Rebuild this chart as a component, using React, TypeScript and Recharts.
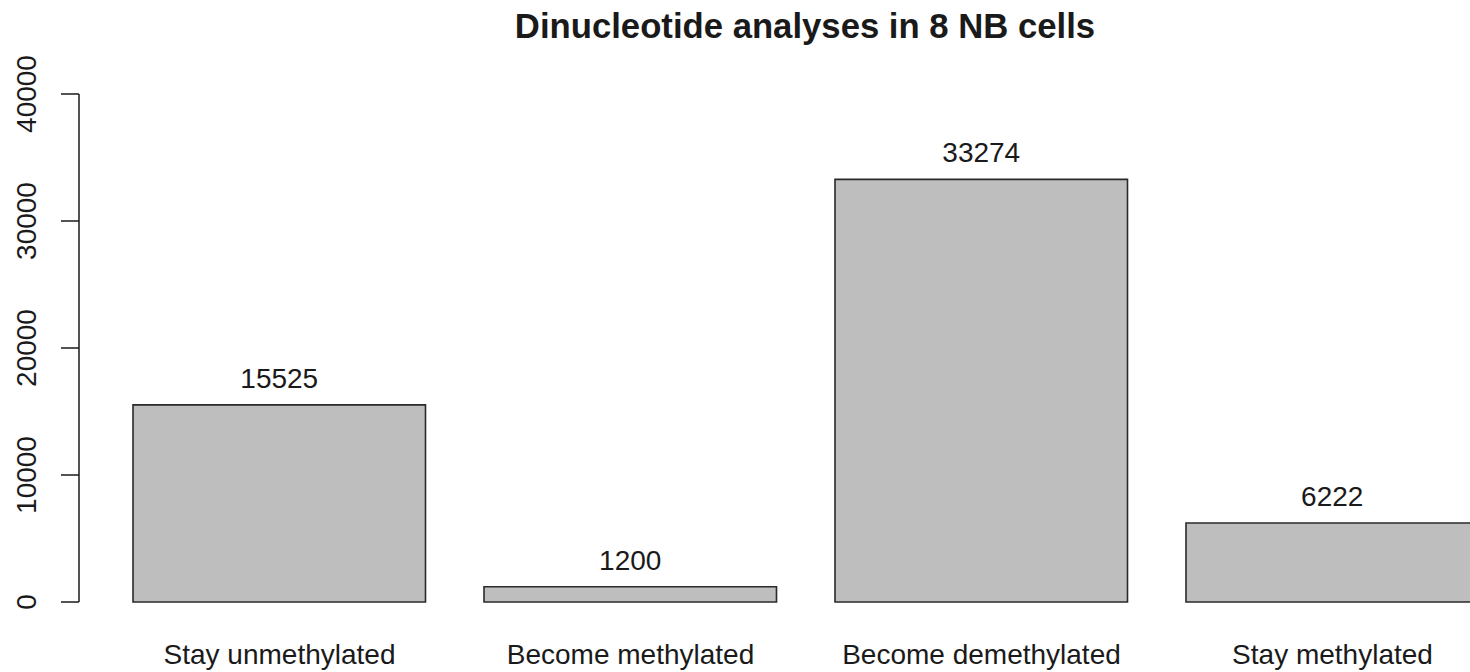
import React from "react";
import { BarChart, Bar, XAxis, YAxis, LabelList } from "recharts";

const categories = [
  "Stay unmethylated",
  "Become methylated",
  "Become demethylated",
  "Stay methylated",
];
const counts = [15525, 1200, 33274, 6222];
const yTicks = [0, 10000, 20000, 30000, 40000];

const data = categories.map((name, i) => ({ name, count: counts[i] }));

const FONT = "'Liberation Sans', Arial, Helvetica, sans-serif";
const INK = "#1a1a1a";

function YTick(props: any) {
  const { y, payload } = props;
  return (
    <text
      x={36}
      y={y}
      transform={`rotate(-90, 36, ${y})`}
      textAnchor="middle"
      fontSize={28}
      fontFamily={FONT}
      fill={INK}
    >
      {payload.value}
    </text>
  );
}

function XTick(props: any) {
  const { x, payload } = props;
  return (
    <text
      x={x}
      y={664}
      textAnchor="middle"
      fontSize={28}
      fontFamily={FONT}
      fill={INK}
    >
      {payload.value}
    </text>
  );
}

export default function App() {
  return (
    <div
      style={{
        position: "absolute",
        left: 0,
        top: 0,
        width: 1470,
        height: 672,
        overflow: "hidden",
        background: "#fff",
      }}
    >
      <div
        style={{
          position: "absolute",
          left: 0,
          width: 1610,
          top: 8,
          textAlign: "center",
          fontFamily: FONT,
          fontWeight: "bold",
          fontSize: 34.7,
          lineHeight: "36px",
          color: INK,
        }}
      >
        Dinucleotide analyses in 8 NB cells
      </div>
      <BarChart
        width={1508}
        height={672}
        data={data}
        margin={{ top: 94, right: 0, bottom: 0, left: 0 }}
      >
        <XAxis
          dataKey="name"
          height={70}
          axisLine={false}
          tickLine={false}
          tick={<XTick />}
          padding={{ left: 25, right: 0 }}
          interval={0}
        />
        <YAxis
          width={79}
          domain={[0, 40000]}
          ticks={yTicks}
          interval={0}
          tickSize={18}
          axisLine={{ stroke: INK, strokeWidth: 1.5 }}
          tickLine={{ stroke: INK, strokeWidth: 1.5 }}
          tick={<YTick />}
        />
        <Bar
          dataKey="count"
          fill="#bebebe"
          stroke="#2a2a2a"
          strokeWidth={1.6}
          barSize={292.5}
          isAnimationActive={false}
        >
          <LabelList
            dataKey="count"
            position="top"
            offset={17}
            fontSize={28}
            fontFamily={FONT}
            fill={INK}
          />
        </Bar>
      </BarChart>
    </div>
  );
}
